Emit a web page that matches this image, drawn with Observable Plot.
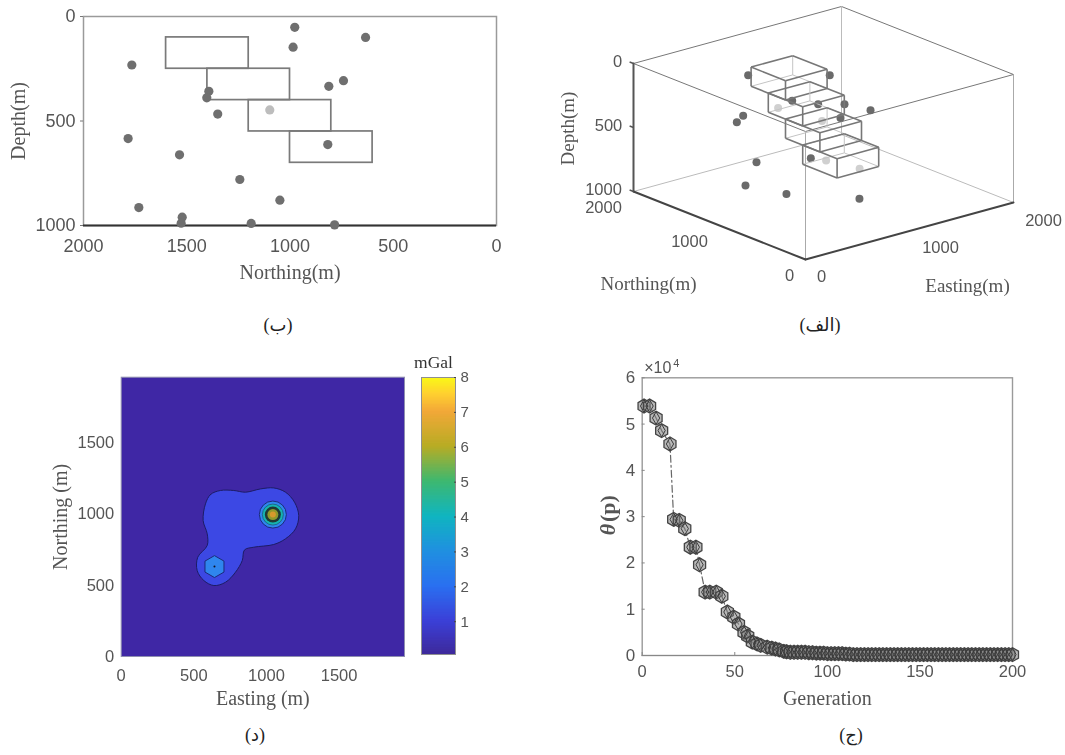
<!DOCTYPE html>
<html><head><meta charset="utf-8">
<script src="https://cdn.jsdelivr.net/npm/d3@7"></script>
<script src="https://cdn.jsdelivr.net/npm/@observablehq/plot@0.6"></script>
<style>
html,body{margin:0;padding:0;background:#fff}
#page{position:relative;width:1065px;height:755px;overflow:hidden;background:#fff}
#page svg{position:absolute;background:transparent;filter:blur(0.5px)}
.cap{position:absolute;font:18px "Liberation Serif","DejaVu Sans",serif;color:#222;direction:rtl;white-space:nowrap;transform:translateX(-50%)}
</style></head><body><div id="page"></div>
<script>
// --- Panel (ب): Northing / Depth section
const secNorthing=[977,634,985,1766,741,812,1393,1403,1350,1098,1784,817,1535,1243,1049,1732,1522,1527,1188,784];
const secDepth=[52,100,147,232,307,334,358,389,467,447,584,613,662,780,879,914,960,989,990,997];
const secShade=[0,0,0,0,0,0,0,0,0,1,0,0,0,0,0,0,0,0,0,0];
const boxNorthA=[1600,1400,1200,1000];
const boxNorthB=[1200,1000,800,600];
const boxDepthA=[100,250,400,550];
const boxDepthB=[250,400,550,700];
const boxEastA=800, boxEastB=1200;
// --- Panel (الف): 3D view
const ptEast=[909,1041,1024,646,1164,1238,1008,866,815,961,1079,703,815,1172,897,1067,916,1388];
const ptNorth=[1766,977,1393,634,954,741,812,1772,1784,1732,1243,1548,1207,790,1403,1098,868,1049];
const ptDepth=[232,52,358,100,300,307,334,540,584,914,780,989,990,997,389,447,662,879];
const ptShade=[0,0,0,0,0,0,0,0,0,0,0,0,0,0,1,1,1,1];
// --- Panel (د): gravity map
const blobEast=[580,615,683,775,855,959,1050,1131,1193,1222,1200,1131,1050,913,849,833,787,718,638,569,523,527,592,592,564];
const blobNorth=[1071,1137,1165,1165,1153,1176,1183,1153,1083,989,896,826,786,767,748,673,592,521,498,533,603,697,779,861,954];
const peakEast=[1044,642];
const peakNorth=[996,631];
const parulaLevels=[0.06,1,2,3,4,5,6,7,7.5,8];
const parulaColors=["#3e2a9c","#3b40d8","#2a70f0","#2090e0","#10b5c0","#3eb870","#b8ac24","#f2a838","#ffd030","#f9fb15"];
// --- Panel (ج): convergence
const genX=[1,4,7.5,10.5,15,17,20,23,26,29,31,34,36.5,40,43,46,49.5,52,55,57,59.5,62,64,67.5,70,72,74,76.5,78,80,82,84,86,88,90,92,94,96,98,100,102,104,106,108,110,112,114,116,118,120,122,124,126,128,130,132,134,136,138,140,142,144,146,148,150,152,154,156,158,160,162,164,166,168,170,172,174,176,178,180,182,184,186,188,190,192,194,196,198,200];
const genY=[5.39,5.39,5.13,4.86,4.57,2.94,2.92,2.74,2.34,2.34,1.96,1.37,1.37,1.37,1.28,0.94,0.83,0.68,0.5,0.42,0.29,0.25,0.22,0.18,0.16,0.14,0.12,0.09,0.08,0.07,0.07,0.07,0.07,0.07,0.06,0.06,0.05,0.05,0.05,0.04,0.04,0.04,0.04,0.04,0.03,0.03,0.02,0.02,0.02,0.02,0.02,0.02,0.02,0.02,0.02,0.02,0.02,0.02,0.02,0.02,0.02,0.02,0.02,0.02,0.02,0.02,0.02,0.02,0.02,0.02,0.02,0.02,0.02,0.02,0.02,0.02,0.02,0.02,0.02,0.02,0.02,0.02,0.02,0.02,0.02,0.02,0.02,0.02,0.02,0.02];

const sans='"Liberation Sans",Arial,sans-serif', serif='"Liberation Serif",serif';
const tickCol="#555", titleCol="#555";
const plain=d=>String(d);
const page=document.getElementById("page");
function place(svg,left,top){svg.style.left=left+"px";svg.style.top=top+"px";page.appendChild(svg);}
function caption(t,x,y){const d=document.createElement("div");d.className="cap";d.textContent=t;d.style.left=x+"px";d.style.top=y+"px";page.appendChild(d);}

// Panel (ب)
{
 const pts=secNorthing.map((n,i)=>({n,d:secDepth[i],s:secShade[i]}));
 const boxes=boxNorthA.map((n,i)=>({a:n,b:boxNorthB[i],t:boxDepthA[i],u:boxDepthB[i]}));
 place(Plot.plot({width:530,height:330,marginLeft:83,marginRight:34,marginTop:16,marginBottom:105,
  x:{domain:[2000,0]},y:{domain:[1000,0]},style:{background:"transparent"},
  marks:[
   Plot.frame({stroke:"#9a9a9a",strokeWidth:1.5}),
   Plot.ruleY([1000],{stroke:"#333",strokeWidth:2}),
   Plot.rect(boxes,{x1:"a",x2:"b",y1:"t",y2:"u",stroke:"#7a7a7a",strokeWidth:1.7,fill:"none"}),
   Plot.dot(pts,{x:"n",y:"d",r:4.6,fill:d=>d.s?"#bdbdbd":"#6f6f6f"}),
   Plot.axisX({ticks:[2000,1500,1000,500,0],tickSize:0,tickPadding:14,fontSize:18,fontFamily:sans,fill:tickCol,label:null,tickFormat:plain}),
   Plot.axisY({ticks:[0,500,1000],tickSize:3,tickPadding:5,fontSize:18,fontFamily:sans,fill:tickCol,stroke:"#777",label:null,tickFormat:plain}),
   Plot.text(["Northing(m)"],{frameAnchor:"bottom",lineAnchor:"middle",dy:47,fontSize:20,fontFamily:serif,fill:titleCol}),
   Plot.text(["Depth(m)"],{frameAnchor:"left",textAnchor:"middle",lineAnchor:"middle",rotate:-90,dx:-65,fontSize:20,fontFamily:serif,fill:titleCol})
  ]}),0,0);
}

// Panel (الف)
{
 const U=(e,n)=>0.104*e-0.086*n, V=(e,n,d)=>0.0285*e+0.034*n-0.128*d;
 const edge=(a,b,o)=>({x1:U(a[0],a[1]),y1:V(...a),x2:U(b[0],b[1]),y2:V(...b),...o});
 const M=2000,D=1000;
 const frameEdges=[
  edge([0,M,0],[M,M,0],{c:"#777",w:1}),edge([M,M,0],[M,0,0],{c:"#777",w:1}),
  edge([0,M,0],[0,0,0],{c:"#777",w:1}),edge([0,0,0],[M,0,0],{c:"#777",w:1}),
  edge([0,0,0],[0,0,D],{c:"#aaa",w:1}),edge([M,M,0],[M,M,D],{c:"#bbb",w:1}),edge([M,0,0],[M,0,D],{c:"#aaa",w:1}),
  edge([0,M,D],[M,M,D],{c:"#bbb",w:1}),edge([M,M,D],[M,0,D],{c:"#bbb",w:1}),
  edge([0,M,0],[0,M,D],{c:"#555",w:2}),edge([0,M,D],[0,0,D],{c:"#444",w:2}),edge([0,0,D],[M,0,D],{c:"#444",w:2})];
 const boxEdges=[];
 boxNorthA.forEach((nb,i)=>{
  const nf=boxNorthB[i],t=boxDepthA[i],b=boxDepthB[i],e0=boxEastA,e1=boxEastB;
  const hid={c:"#c4c4c4",w:1}, vis={c:"#777",w:1.6};
  boxEdges.push(
   edge([e1,nb,b],[e0,nb,b],hid),edge([e1,nb,b],[e1,nf,b],hid),edge([e1,nb,b],[e1,nb,t],hid),
   edge([e0,nf,t],[e1,nf,t],vis),edge([e1,nf,t],[e1,nb,t],vis),edge([e1,nb,t],[e0,nb,t],vis),edge([e0,nb,t],[e0,nf,t],vis),
   edge([e0,nf,b],[e1,nf,b],vis),edge([e0,nf,b],[e0,nb,b],vis),
   edge([e0,nf,t],[e0,nf,b],vis),edge([e1,nf,t],[e1,nf,b],vis),edge([e0,nb,t],[e0,nb,b],vis));
 });
 const pts=ptEast.map((e,i)=>({u:U(e,ptNorth[i]),v:V(e,ptNorth[i],ptDepth[i]),s:ptShade[i]}));
 const labels=[
  {t:"0",e:0,n:M,d:0,dx:-16,dy:-2},{t:"500",e:0,n:M,d:500,dx:-25,dy:-2},{t:"1000",e:0,n:M,d:D,dx:-30,dy:-2},
  {t:"2000",e:0,n:M,d:D,dx:-30,dy:16},{t:"1000",e:0,n:1000,d:D,dx:-30,dy:16},{t:"0",e:0,n:0,d:D,dx:-16,dy:16},
  {t:"0",e:0,n:0,d:D,dx:16,dy:17},{t:"1000",e:1000,n:0,d:D,dx:31,dy:17},{t:"2000",e:M,n:0,d:D,dx:30,dy:18}];
 const ticks=[0,500,1000].map(d=>edge([0,M,d],[0,M+45,d],{c:"#555",w:1.5}));
 place(Plot.plot({width:515,height:330,margin:0,
  x:{domain:[-255,260],axis:null},y:{domain:[-199,131],axis:null},style:{background:"transparent"},
  marks:[
   Plot.link(frameEdges,{x1:"x1",y1:"y1",x2:"x2",y2:"y2",stroke:"c",strokeWidth:"w",strokeLinecap:"round"}),
   Plot.link(ticks,{x1:"x1",y1:"y1",x2:"x2",y2:"y2",stroke:"c",strokeWidth:"w"}),
   Plot.dot(pts,{x:"u",y:"v",r:4,fill:d=>d.s?"#d0d0d0":"#6a6a6a"}),
   Plot.link(boxEdges,{x1:"x1",y1:"y1",x2:"x2",y2:"y2",stroke:"c",strokeWidth:"w"}),
   ...labels.map(l=>Plot.text([l],{x:d=>U(d.e,d.n),y:d=>V(d.e,d.n,d.d),text:"t",dx:l.dx,dy:l.dy,fontSize:16.5,fontFamily:sans,fill:tickCol})),
   Plot.text(["Northing(m)"],{frameAnchor:"top-left",lineAnchor:"middle",dx:98,dy:283,fontSize:19,fontFamily:serif,fill:titleCol,textAnchor:"middle"}),
   Plot.text(["Easting(m)"],{frameAnchor:"top-left",lineAnchor:"middle",dx:417,dy:285,fontSize:19,fontFamily:serif,fill:titleCol,textAnchor:"middle"}),
   Plot.text(["Depth(m)"],{frameAnchor:"top-left",lineAnchor:"middle",rotate:-90,dx:17,dy:128,fontSize:19,fontFamily:serif,fill:titleCol,textAnchor:"middle"})
  ]}),550,0);
}

// Panel (د)
{
 const blob=blobEast.map((e,i)=>({e,n:blobNorth[i]}));
 const pk=[{e:peakEast[0],n:peakNorth[0]}], pk2=[{e:peakEast[1],n:peakNorth[1]}];
 place(Plot.plot({width:400,height:365,marginLeft:90.7,marginRight:26,marginTop:11.7,marginBottom:74,
  x:{domain:[0,1950]},y:{domain:[0,1960]},style:{background:"transparent"},
  marks:[
   Plot.frame({fill:"#3f27a5",stroke:"#8f8fb0",strokeWidth:1}),
   Plot.line(blob,{x:"e",y:"n",fill:"#3c48e4",stroke:"#1c1c66",strokeWidth:1,curve:"catmull-rom-closed"}),
   Plot.dot(pk2,{x:"e",y:"n",symbol:"hexagon",r:9.5,fill:"#2f86ee",stroke:"#1c2a7a",strokeWidth:1}),
   Plot.dot(pk2,{x:"e",y:"n",r:1,fill:"#112"}),
   Plot.dot(pk,{x:"e",y:"n",r:13.5,fill:"#2f86ee",stroke:"#1c2a7a",strokeWidth:1}),
   Plot.dot(pk,{x:"e",y:"n",r:10.5,fill:"#15b4b0",stroke:"#1c5a7a",strokeWidth:.8}),
   Plot.dot(pk,{x:"e",y:"n",r:8,fill:"#1f3a34"}),
   Plot.dot(pk,{x:"e",y:"n",r:5.5,fill:"#8f9a2c"}),
   Plot.dot(pk,{x:"e",y:"n",r:3,fill:"#d79a2c"}),
   Plot.axisX({ticks:[0,500,1000,1500],tickSize:0,tickPadding:13,fontSize:16.5,fontFamily:sans,fill:tickCol,label:null,tickFormat:plain}),
   Plot.axisY({ticks:[0,500,1000,1500],tickSize:0,tickPadding:7,fontSize:16.5,fontFamily:sans,fill:tickCol,label:null,tickFormat:plain}),
   Plot.text(["Easting (m)"],{frameAnchor:"bottom",lineAnchor:"middle",dy:42,fontSize:20,fontFamily:serif,fill:titleCol}),
   Plot.text(["Northing (m)"],{frameAnchor:"left",textAnchor:"middle",lineAnchor:"middle",rotate:-90,dx:-61,fontSize:20,fontFamily:serif,fill:titleCol})
  ]}),30,365);
 const bands=d3.range(0.06,8,0.04).map(v=>({v,w:Math.min(8,v+0.09)}));
 place(Plot.plot({width:70,height:330,marginLeft:11,marginRight:25,marginTop:42,marginBottom:11,
  x:{domain:[0,1],axis:null},y:{domain:[0.06,8]},color:{type:"linear",domain:parulaLevels,range:parulaColors},style:{background:"transparent"},
  marks:[
   Plot.rect(bands,{x1:0,x2:1,y1:"v",y2:"w",fill:"v"}),
   Plot.frame({stroke:"#8f8f90",strokeWidth:1}),
   Plot.axisY({anchor:"right",ticks:d3.range(1,9),tickSize:-2,tickPadding:7,fontSize:15,fontFamily:sans,fill:tickCol,stroke:"#444",label:null}),
   Plot.text(["mGal"],{frameAnchor:"top",lineAnchor:"middle",dy:-15,dx:-5,fontSize:17.5,fontFamily:serif,fill:"#333"})
  ]}),410,335);
}

// Panel (ج)
{
 const s=genX.map((g,i)=>({g,v:genY[i]*1e4}));
 const top=350;
 place(Plot.plot({width:460,height:400,marginLeft:71.7,marginRight:18,marginTop:27.3,marginBottom:95,
  x:{domain:[0,200]},y:{domain:[0,60000]},style:{background:"transparent"},
  marks:[
   Plot.frame({stroke:"#9a9a9a",strokeWidth:1.4}),
   Plot.ruleY([0],{stroke:"#888",strokeWidth:1.2}),
   Plot.axisX({ticks:[0,50,100,150,200],tickSize:-3,tickPadding:13,fontSize:16.5,fontFamily:sans,fill:tickCol,stroke:"#888",label:null}),
   Plot.axisY({ticks:d3.range(0,60001,10000),tickSize:-3,tickPadding:10,fontSize:17,fontFamily:sans,fill:tickCol,stroke:"#888",label:null,tickFormat:d=>d/1e4}),
   Plot.line(s,{x:"g",y:"v",stroke:"#666",strokeWidth:1.2,strokeDasharray:"7 3 2 3"}),
   Plot.dot(s,{x:"g",y:"v",symbol:"hexagon",r:6,fill:"#808080",fillOpacity:.55,stroke:"#444",strokeWidth:1.3}),
   Plot.dot(s,{x:"g",y:"v",symbol:"diamond",r:3.8,fill:"none",stroke:"#3a3a3a",strokeWidth:1}),
   Plot.text(["×10"],{frameAnchor:"top-left",lineAnchor:"middle",dy:-10,dx:2,fontSize:16,fontFamily:sans,fill:tickCol,textAnchor:"start"}),
   Plot.text(["4"],{frameAnchor:"top-left",lineAnchor:"middle",dy:-14,dx:31,fontSize:11,fontFamily:sans,fill:tickCol,textAnchor:"start"}),
   Plot.text(["θ"],{frameAnchor:"left",textAnchor:"middle",lineAnchor:"middle",rotate:-90,dx:-34,dy:13,fontSize:22,fontWeight:"bold",fontFamily:serif,fontStyle:"italic",fill:"#555"}),
   Plot.text(["(p)"],{frameAnchor:"left",textAnchor:"middle",lineAnchor:"middle",rotate:-90,dx:-34,dy:-8,fontSize:22,fontWeight:"bold",fontFamily:serif,fill:"#555"}),
   Plot.text(["Generation"],{frameAnchor:"bottom",lineAnchor:"middle",dy:43,fontSize:20,fontFamily:serif,fill:titleCol})
  ]}),570,top);
}

caption("(ب)",278,314);
caption("(الف)",820,314);
caption("(د)",255,724);
caption("(ج)",851,724);
</script></body></html>
